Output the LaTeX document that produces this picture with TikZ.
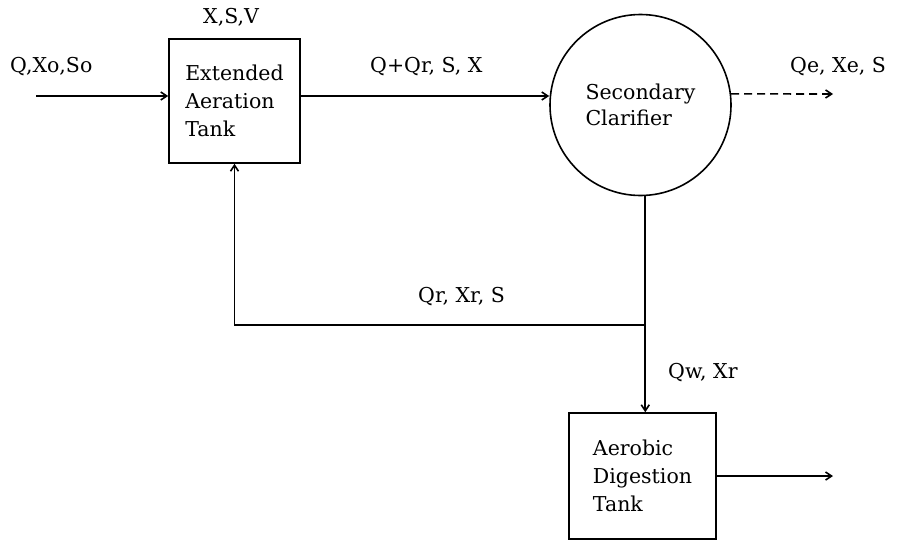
\documentclass[tikz,border=0pt]{standalone}
\usepackage{fontspec}
\setmainfont{DejaVu Serif}
\usetikzlibrary{arrows.meta,calc}
\begin{document}
\begin{tikzpicture}[x=1pt,y=-1pt,
  every node/.style={font=\fontsize{20.5}{28}\selectfont},
  flow/.style={line width=1.6pt,-{Straight Barb[length=6pt,width=8pt]}},
  box/.style={draw,line width=1.6pt,align=left,inner sep=0pt},
  lbl/.style={anchor=base west,inner sep=0pt}]
\useasboundingbox (0,0) rectangle (897,541);
\node[box,minimum width=131pt,minimum height=124pt] (tank) at (234.5,101) {Extended\\Aeration\\Tank};
\node[draw,circle,line width=1.6pt,minimum size=181pt,inner sep=0pt,align=left,font=\fontsize{20.5}{26}\selectfont] (clar) at (640.5,105) {Secondary\\Clarifier};
\node[box,minimum width=147pt,minimum height=126pt] (dig) at (642.5,476) {Aerobic\\Digestion\\Tank};
\coordinate (in) at (36,96);
\coordinate (eff) at (833,94);
\coordinate (j) at (clar.-87 |- 0,325);
\coordinate (out) at (833,476);
\draw[flow] (in) -- (in -| tank.west);
\draw[flow] (tank.east |- in) -- (in -| clar.west);
\draw[flow,dash pattern=on 8pt off 5pt] (clar.7) -- (eff);
\draw[line width=1.6pt] (clar.-87) -- (j);
\draw[flow] (j) -- (j |- dig.north);
\draw[flow] (j) -| (tank.south);
\draw[flow] (dig.east) -- (out);
\node[lbl] (l1) at (10,72) {Q,Xo,So};
\node[lbl] (l2) at (203,23) {X,S,V};
\node[lbl] (l3) at (370,72) {Q+Qr, S, X};
\node[lbl] (l4) at (790,72) {Qe, Xe, S};
\node[lbl] (l5) at (418,302) {Qr, Xr, S};
\node[lbl] (l6) at (668,378) {Qw, Xr};
\end{tikzpicture}
\end{document}
